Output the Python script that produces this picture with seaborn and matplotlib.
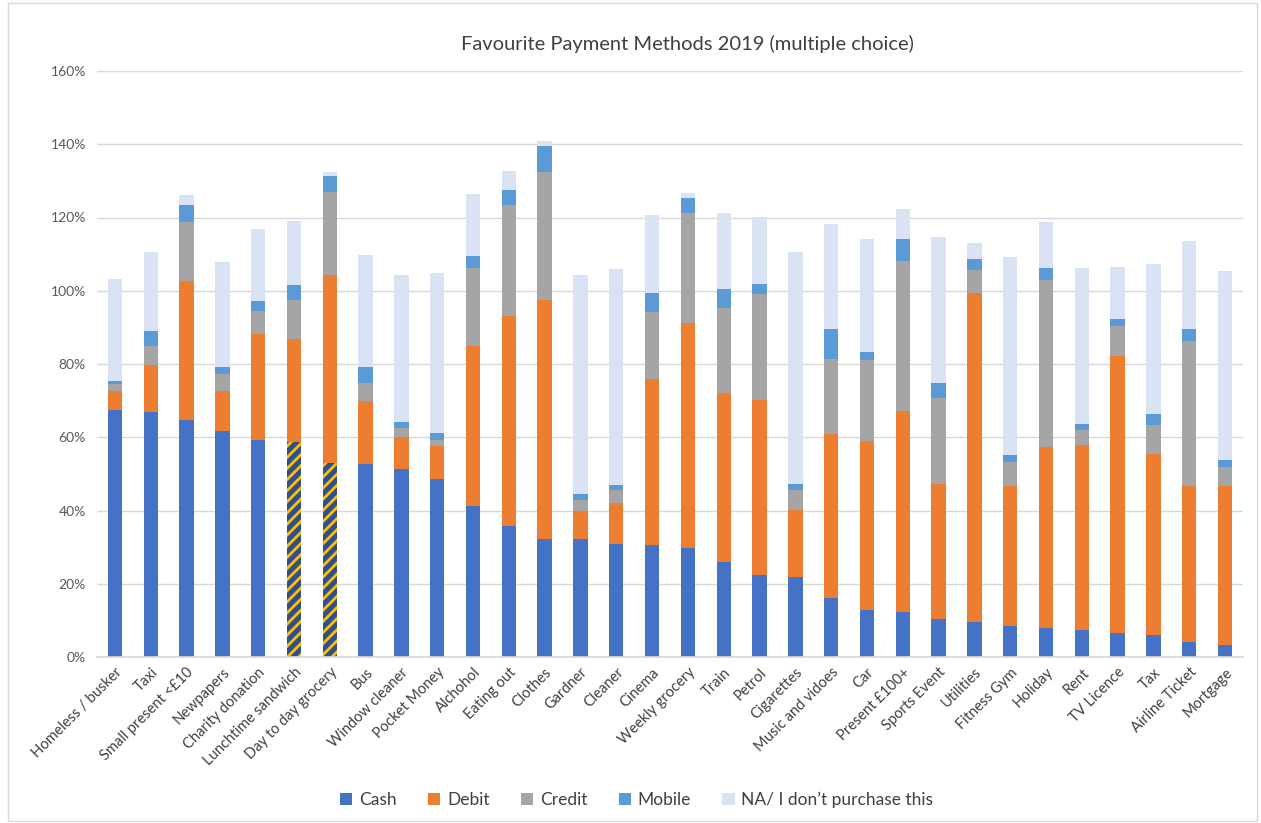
import numpy as np
import pandas as pd
import matplotlib
matplotlib.use("Agg")
import matplotlib.pyplot as plt
import seaborn as sns
from matplotlib.patches import Rectangle, Patch
from matplotlib.ticker import PercentFormatter

categories = ["Homeless / busker", "Taxi", "Small present <£10", "Newpapers", "Charity donation",
              "Lunchtime sandwich", "Day to day grocery", "Bus", "Window cleaner", "Pocket Money",
              "Alchohol", "Eating out", "Clothes", "Gardner", "Cleaner", "Cinema", "Weekly grocery",
              "Train", "Petrol", "Cigarettes", "Music and vidoes", "Car", "Present £100+",
              "Sports Event", "Utilities", "Fitness Gym", "Holiday", "Rent", "TV Licence", "Tax",
              "Airline Ticket", "Mortgage"]

cash = [67.5, 66.9, 64.7, 61.6, 59.3, 58.8, 53.0, 52.8, 51.2, 48.6, 41.1, 35.8, 32.3, 32.3, 30.9,
        30.5, 29.8, 26.0, 22.5, 21.9, 16.1, 12.7, 12.4, 10.3, 9.5, 8.5, 7.9, 7.4, 6.6, 6.0, 4.1, 3.3]
debit = [5.0, 12.8, 38.0, 10.9, 29.0, 28.0, 51.3, 17.0, 8.9, 8.9, 43.7, 57.3, 65.2, 7.5, 11.1,
         45.3, 61.5, 46.1, 47.7, 18.2, 44.8, 46.3, 54.9, 37.0, 89.8, 38.3, 49.5, 50.5, 75.6, 49.3, 42.5, 43.3]
credit = [2.0, 5.3, 16.2, 4.9, 6.3, 10.7, 22.7, 4.9, 2.3, 1.8, 21.5, 30.2, 35.0, 3.0, 3.6,
          18.3, 30.0, 23.1, 28.8, 5.5, 20.6, 22.0, 40.7, 23.4, 6.5, 6.5, 45.6, 4.2, 8.2, 8.1, 39.6, 5.4]
mobile = [0.8, 4.1, 4.6, 1.9, 2.6, 4.0, 4.2, 4.4, 1.9, 1.9, 3.3, 4.1, 7.0, 1.6, 1.3,
          5.2, 4.0, 5.4, 2.8, 1.7, 8.1, 2.3, 6.0, 4.0, 2.9, 1.9, 3.2, 1.6, 1.9, 3.0, 3.4, 1.8]
na = [27.8, 21.4, 2.7, 28.5, 19.6, 17.5, 1.3, 30.6, 39.9, 43.6, 16.8, 5.3, 1.3, 59.8, 59.1,
      21.5, 1.4, 20.5, 18.4, 63.2, 28.7, 30.9, 8.3, 40.0, 4.3, 53.9, 12.6, 42.4, 14.2, 41.0, 24.0, 51.7]

series_names = ["Cash", "Debit", "Credit", "Mobile", "NA/ I don\u2019t purchase this"]
series_colors = ["#4472C4", "#ED7D31", "#A5A5A5", "#5B9BD5", "#DAE3F3"]
highlighted = ["Lunchtime sandwich", "Day to day grocery"]

sns.set_theme(style="white")
plt.rcParams["font.family"] = ["Lato", "DejaVu Sans"]
plt.rcParams["hatch.linewidth"] = 2.0

fig = plt.figure(figsize=(12.61, 8.23), dpi=100)
ax = fig.add_axes([97 / 1261, 1 - 657 / 823, (1243 - 97) / 1261, (657 - 71) / 823])

df = pd.DataFrame({"cat": categories, "Cash": cash, "Debit": debit, "Credit": credit,
                   "Mobile": mobile, "NA": na})
stack = df[["Cash", "Debit", "Credit", "Mobile", "NA"]].cumsum(axis=1)
cols = ["NA", "Mobile", "Credit", "Debit", "Cash"]
cmap = dict(zip(["Cash", "Debit", "Credit", "Mobile", "NA"], series_colors))
for c in cols:
    sns.barplot(x=df["cat"], y=stack[c] / 100, color=cmap[c], width=0.4, ax=ax,
                linewidth=0, saturation=1, order=categories)

# hatch highlighted cash bars
for p, cat in zip(ax.containers[-1].patches, categories):
    if cat in highlighted:
        p.set_facecolor("#2F4F8F")
        p.set_edgecolor("#FFC000")
        p.set_hatch("///")
        p.set_linewidth(0)

ax.set_ylim(0, 1.6)
ax.set_xlim(-0.5, len(categories) - 0.5)
ax.set_yticks(np.arange(0, 1.61, 0.2))
ax.yaxis.set_major_formatter(PercentFormatter(1.0, decimals=0))
ax.grid(axis="y", color="#D9D9D9", linewidth=1)
ax.set_axisbelow(True)
for s in ["top", "right", "left"]:
    ax.spines[s].set_visible(False)
ax.spines["bottom"].set_color("#D9D9D9")
ax.set_xlabel("")
ax.set_ylabel("")
ax.tick_params(axis="both", length=0)
ax.tick_params(axis="y", labelsize=10, labelcolor="#595959", pad=8)
ax.set_xticks(range(len(categories)))
ax.set_xticklabels(categories, rotation=45, ha="right", rotation_mode="anchor",
                   fontsize=10.5, color="#404040")
ax.tick_params(axis="x", pad=6)

fig.text(0.545, 1 - 44 / 823, "Favourite Payment Methods 2019 (multiple choice)",
         ha="center", va="center", fontsize=14.5, color="#404040")

handles = [Patch(facecolor=c, edgecolor="none") for c in series_colors]
fig.legend(handles, series_names, loc="center", bbox_to_anchor=(0.505, 1 - 800 / 823), ncol=5,
           frameon=False, fontsize=12.5, handlelength=0.7, handleheight=0.7,
           handletextpad=0.4, columnspacing=1.8, labelcolor="#404040")

fig.patches.append(Rectangle((8 / 1261, 2 / 823), 1249 / 1261, 818 / 823, transform=fig.transFigure,
                             fill=False, edgecolor="#D9D9D9", linewidth=1))

fig.savefig("out.png", dpi=100)
